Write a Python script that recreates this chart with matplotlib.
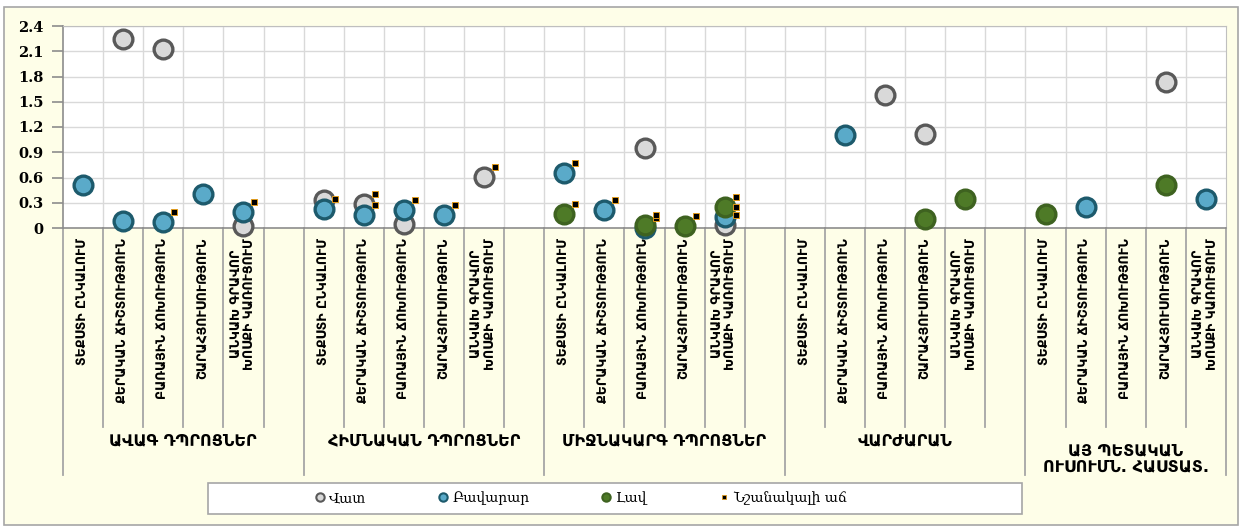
import numpy as np
import matplotlib.pyplot as plt
from matplotlib.patches import Rectangle
from matplotlib.lines import Line2D
from matplotlib.transforms import ScaledTranslation

# category labels
groups = ["ԱՎԱԳ ԴՊՐՈՑՆԵՐ", "ՀԻՄՆԱԿԱՆ ԴՊՐՈՑՆԵՐ", "ՄԻՋՆԱԿԱՐԳ ԴՊՐՈՑՆԵՐ",
          "ՎԱՐԺԱՐԱՆ", "ԱՅ ՊԵՏԱԿԱՆ\nՈՒՍՈՒՄՆ. ՀԱՍՏԱՏ."]
subcats = ["ՏԵՔՍՏԻ ԸՆԿԱԼՈՒՄ", "ՔԵՐԱԿԱՆ ՃԻՇՏՈՒԹՅՈՒՆ", "ԲԱՌԱՅԻՆ ՃՈԽՈՒԹՅՈՒՆ",
           "ՇԱՐԱՀՅՈՒՍՈՒԹՅՈՒՆ", "ԱՆԿԱԽ ԳՐԱՎՈՐ\nԽՈՍՔԻ ԿԱՌՈՒՑՈՒՄ"]

series_names = ["Վատ", "Բավարար", "Լավ"]
sig_name = "Նշանակալի աճ"

nan = np.nan
# values, 5 per group
vat = [nan, 2.25, 2.13, nan, 0.02,
       0.33, 0.29, 0.05, nan, 0.61,
       nan, nan, 0.95, nan, 0.04,
       nan, nan, 1.58, 1.12, nan,
       nan, nan, nan, 1.73, nan]
bavarar = [0.51, 0.08, 0.07, 0.40, 0.19,
           0.23, 0.15, 0.21, 0.16, nan,
           0.65, 0.21, 0.00, nan, 0.13,
           nan, 1.10, nan, nan, nan,
           nan, 0.25, nan, nan, 0.35]
lav = [nan, nan, nan, nan, nan,
       nan, nan, nan, nan, nan,
       0.17, nan, 0.04, 0.02, 0.25,
       nan, nan, nan, 0.11, 0.35,
       0.17, nan, nan, 0.51, nan]

# significant growth flags
vat_sig = [0, 0, 0, 0, 0,
           0, 1, 0, 0, 1,
           0, 0, 0, 0, 1,
           0, 0, 0, 0, 0,
           0, 0, 0, 0, 0]
bavarar_sig = [0, 0, 1, 0, 1,
               1, 1, 1, 1, 0,
               1, 1, 1, 0, 1,
               0, 0, 0, 0, 0,
               0, 0, 0, 0, 0]
lav_sig = [0, 0, 0, 0, 0,
           0, 0, 0, 0, 0,
           1, 0, 1, 1, 1,
           0, 0, 0, 0, 0,
           0, 0, 0, 0, 0]

yticks = [0, 0.3, 0.6, 0.9, 1.2, 1.5, 1.8, 2.1, 2.4]
ytick_labels = ["0", "0.3", "0.6", "0.9", "1.2", "1.5", "1.8", "2.1", "2.4"]

W, H = 1241, 527
BG = '#FEFEE8'
fig = plt.figure(figsize=(W / 100, H / 100), dpi=100)
fig.patch.set_facecolor('white')
fig.patches.append(Rectangle((4 / W, 2 / H), 1234 / W, 518 / H, transform=fig.transFigure,
                             facecolor=BG, edgecolor='#A6A6A6', lw=1.2, zorder=-10))

ax = fig.add_axes([63 / W, 1 - 228 / H, (1226 - 63) / W, (228 - 26) / H])
n_groups, n_sub = len(groups), len(subcats)
n_cols = n_groups * (n_sub + 1) - 1
ax.set_xlim(0, n_cols)
ax.set_ylim(0, 2.4)
ax.set_facecolor('white')

# category positions
xpos = np.array([g * (n_sub + 1) + s + 0.5 for g in range(n_groups) for s in range(n_sub)])

for xv in range(1, n_cols):
    ax.axvline(xv, color='#D9D9D9', lw=1, zorder=0)
for yv in yticks[1:]:
    ax.axhline(yv, color='#D9D9D9', lw=1, zorder=0)

for side in ['top', 'right']:
    ax.spines[side].set_color('#BFBFBF')
for side in ['left', 'bottom']:
    ax.spines[side].set_color('#8C8C8C')
    ax.spines[side].set_linewidth(1.2)

ax.set_xticks([])
ax.set_yticks(yticks)
ax.set_yticklabels(ytick_labels, fontfamily='DejaVu Serif', fontweight='bold', fontsize=10.5)
ax.tick_params(axis='y', length=8, color='#8C8C8C', width=1.2, pad=6)

styles = [
    dict(mfc='#D9D9D9', mec='#595959'),
    dict(mfc='#5AAAC9', mec='#1D5A6C'),
    dict(mfc='#4E7A27', mec='#3E6220'),
]
all_vals = [vat, bavarar, lav]
all_sig = [vat_sig, bavarar_sig, lav_sig]

sig_tr = ax.transData + ScaledTranslation(0.11, 0.10, fig.dpi_scale_trans)
for i, (vals, st) in enumerate(zip(all_vals, styles)):
    ax.plot(xpos, vals, 'o', ls='none', ms=13.5, mew=2.4, clip_on=False,
            zorder=3 + i, **st)
for i, (vals, flags) in enumerate(zip(all_vals, all_sig)):
    flags = np.array(flags, dtype=bool)
    ax.plot(xpos[flags], np.array(vals)[flags], 's', ls='none', ms=4.2,
            mfc='black', mec='#E09A1A', mew=0.7, transform=sig_tr,
            clip_on=False, zorder=7)

# label area below the axis
xt = ax.get_xaxis_transform()
short_y = -(427 - 228) / 202
long_y = -(475 - 228) / 202
for g in range(n_groups):
    start = g * (n_sub + 1)
    end = start + n_sub + 1 if g < n_groups - 1 else n_cols
    for k in range(1, n_sub + 1):
        if start + k < end:
            ax.plot([start + k, start + k], [0, short_y], color='#A6A6A6', lw=1.3,
                    transform=xt, clip_on=False)
    ax.plot([start, start], [0, long_y], color='#A6A6A6', lw=1.3, transform=xt, clip_on=False)
    if g == n_groups - 1:
        ax.plot([end, end], [0, long_y], color='#A6A6A6', lw=1.3, transform=xt, clip_on=False)
    for s in range(n_sub):
        ax.annotate(subcats[s], xy=(start + s + 0.5, 0), xycoords=xt,
                    xytext=(0, -10), textcoords='offset pixels',
                    rotation=90, ha='center', va='top', fontsize=9,
                    fontweight='bold', fontfamily='DejaVu Sans', linespacing=1.05,
                    multialignment='center')
    cx = start + (n_sub + 1) / 2 if g < n_groups - 1 else start + n_sub / 2
    ypix = 441 if '\n' not in groups[g] else 459
    ax.annotate(groups[g], xy=(cx, 0), xycoords=xt,
                xytext=(0, -(ypix - 228)), textcoords='offset pixels',
                ha='center', va='center', fontsize=11.5, fontweight='bold',
                fontfamily='DejaVu Sans', linespacing=1.05)

# legend
fig.patches.append(Rectangle((208 / W, 1 - 514 / H), (1022 - 208) / W, 31 / H,
                             transform=fig.transFigure, facecolor='white',
                             edgecolor='#A6A6A6', lw=1.2, zorder=1))
handles = [Line2D([], [], marker='o', ls='none', ms=6, mew=1.5, **st) for st in styles]
handles.append(Line2D([], [], marker='s', ls='none', ms=3.5, mfc='black', mec='#E09A1A', mew=0.6))
leg = fig.legend(handles, series_names + [sig_name], loc='center', ncol=4,
                 bbox_to_anchor=(580 / W, 1 - 498 / H), frameon=False,
                 prop=dict(family='DejaVu Serif', size=10), handletextpad=0.2,
                 columnspacing=5.0, handlelength=1.0)

fig.savefig('out.png', dpi=100, facecolor=fig.get_facecolor())
